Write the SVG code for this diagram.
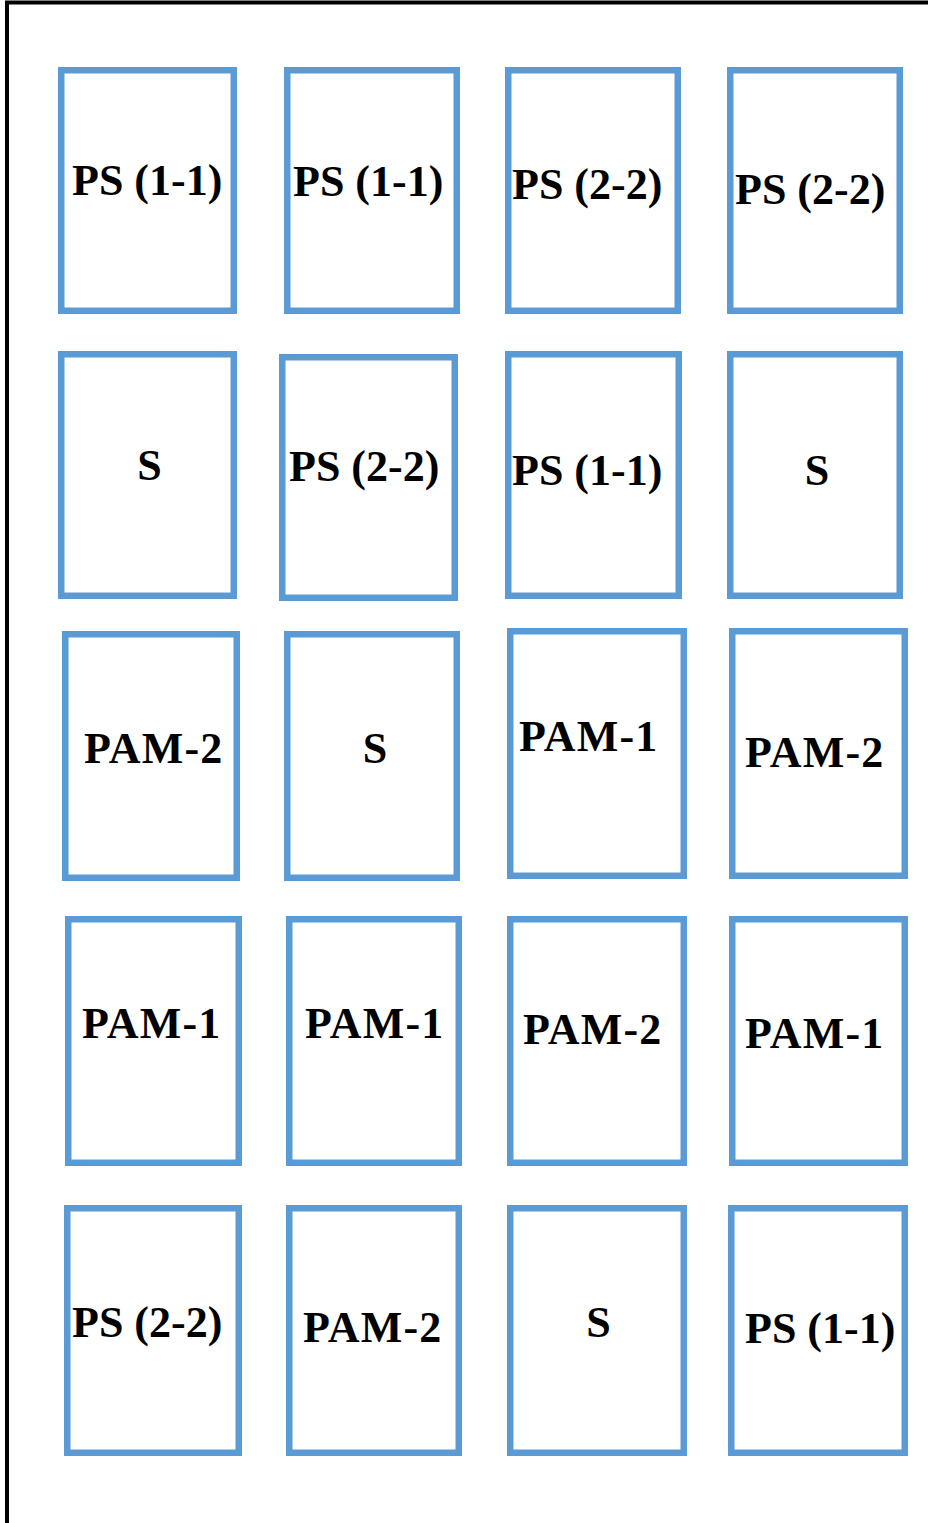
<svg xmlns="http://www.w3.org/2000/svg" width="928" height="1523" viewBox="0 0 928 1523">
<style>
.box{fill:#fff;stroke:#5B9BD5;stroke-width:6.5}
.lbl{font-family:"Liberation Serif","Times New Roman",serif;font-weight:bold;font-size:44px;fill:#000}
.pam{letter-spacing:1.2px}
</style>
<rect width="928" height="1523" fill="#fff"/>
<path d="M7,1523 V2.5 H928" fill="none" stroke="#000" stroke-width="4"/>
<g id="connectors"></g>
<g id="r1c1"><rect class="box" x="61.25" y="70.25" width="172.5" height="240.5"/><text class="lbl" x="72" y="195">PS (1-1)</text></g>
<g id="r1c2"><rect class="box" x="287.25" y="70.25" width="169.5" height="240.5"/><text class="lbl" x="293" y="196">PS (1-1)</text></g>
<g id="r1c3"><rect class="box" x="508.25" y="70.25" width="169.5" height="240.5"/><text class="lbl" x="512" y="199">PS (2-2)</text></g>
<g id="r1c4"><rect class="box" x="730.25" y="70.25" width="169.5" height="240.5"/><text class="lbl" x="735" y="204">PS (2-2)</text></g>
<g id="r2c1"><rect class="box" x="61.25" y="354.25" width="172.5" height="241.5"/><text class="lbl" x="149.5" y="480" text-anchor="middle">S</text></g>
<g id="r2c2"><rect class="box" x="282.25" y="357.25" width="172.5" height="240.5"/><text class="lbl" x="289" y="481">PS (2-2)</text></g>
<g id="r2c3"><rect class="box" x="508.25" y="354.25" width="170.5" height="241.5"/><text class="lbl" x="512" y="485">PS (1-1)</text></g>
<g id="r2c4"><rect class="box" x="730.25" y="354.25" width="169.5" height="241.5"/><text class="lbl" x="817" y="485" text-anchor="middle">S</text></g>
<g id="r3c1"><rect class="box" x="65.25" y="634.25" width="171.5" height="243.5"/><text class="lbl pam" x="84" y="763">PAM-2</text></g>
<g id="r3c2"><rect class="box" x="287.25" y="634.25" width="169.5" height="243.5"/><text class="lbl" x="375" y="763" text-anchor="middle">S</text></g>
<g id="r3c3"><rect class="box" x="510.25" y="631.25" width="173.5" height="244.5"/><text class="lbl pam" x="519" y="751">PAM-1</text></g>
<g id="r3c4"><rect class="box" x="732.25" y="631.25" width="172.5" height="244.5"/><text class="lbl pam" x="745" y="767">PAM-2</text></g>
<g id="r4c1"><rect class="box" x="68.25" y="919.25" width="170.5" height="243.5"/><text class="lbl pam" x="82" y="1038">PAM-1</text></g>
<g id="r4c2"><rect class="box" x="289.25" y="919.25" width="169.5" height="243.5"/><text class="lbl pam" x="305" y="1038">PAM-1</text></g>
<g id="r4c3"><rect class="box" x="510.25" y="919.25" width="173.5" height="243.5"/><text class="lbl pam" x="523" y="1044">PAM-2</text></g>
<g id="r4c4"><rect class="box" x="732.25" y="919.25" width="172.5" height="243.5"/><text class="lbl pam" x="745" y="1048">PAM-1</text></g>
<g id="r5c1"><rect class="box" x="67.25" y="1208.25" width="171.5" height="244.5"/><text class="lbl" x="72" y="1337">PS (2-2)</text></g>
<g id="r5c2"><rect class="box" x="289.25" y="1208.25" width="169.5" height="244.5"/><text class="lbl pam" x="303" y="1342">PAM-2</text></g>
<g id="r5c3"><rect class="box" x="510.25" y="1208.25" width="173.5" height="244.5"/><text class="lbl" x="598.5" y="1337" text-anchor="middle">S</text></g>
<g id="r5c4"><rect class="box" x="731.25" y="1208.25" width="173.5" height="244.5"/><text class="lbl" x="745" y="1343">PS (1-1)</text></g>
</svg>
